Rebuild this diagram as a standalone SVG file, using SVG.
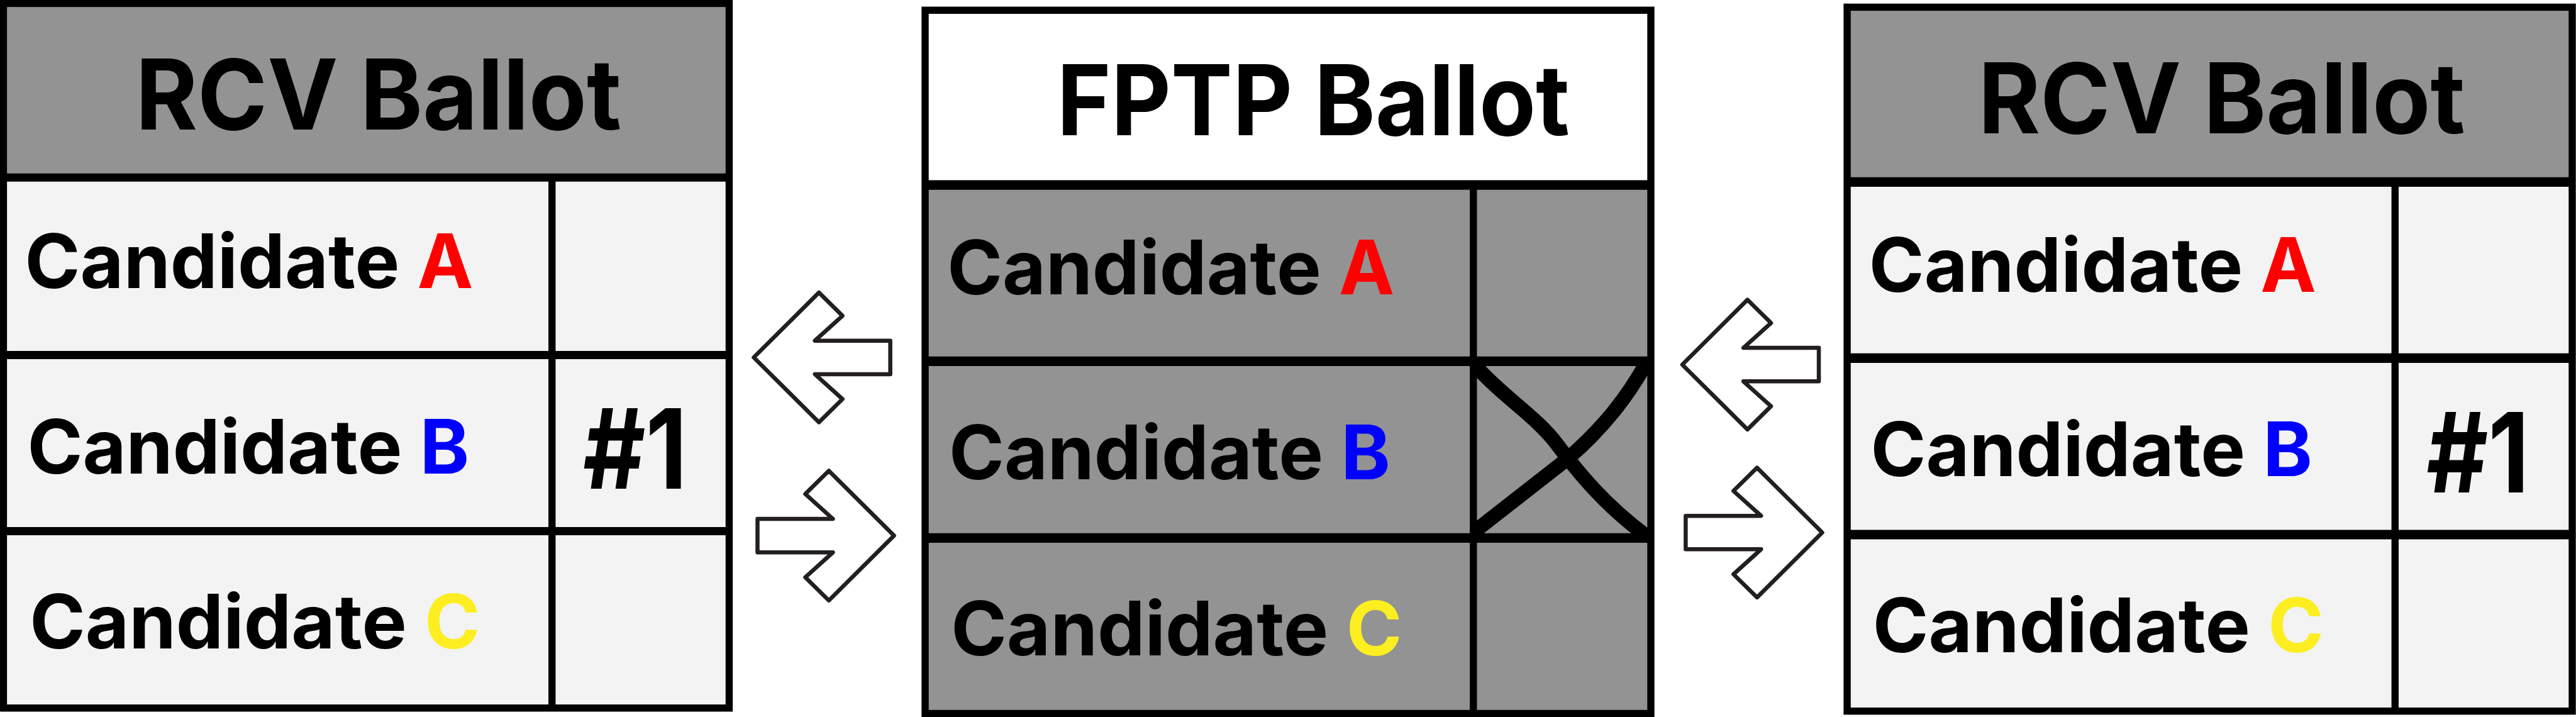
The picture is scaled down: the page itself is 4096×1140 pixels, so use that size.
<svg xmlns="http://www.w3.org/2000/svg" width="4096" height="1140" viewBox="0 0 4096 1140">
<style>
.gray{fill:#939393}
.light{fill:#f3f3f3}
.white{fill:#ffffff}
.frame{fill:none;stroke:#000;stroke-width:21}
.rule{stroke:#000;stroke-width:24}
.rule2{stroke:#000;stroke-width:28}
.vrule{stroke:#000;stroke-width:21}
.title{font-family:Inter,"Liberation Sans",sans-serif;font-weight:700;font-size:286px;fill:#000}
.cand{font-family:Inter,"Liberation Sans",sans-serif;font-weight:700;font-size:220px;fill:#000}
.rank{font-family:Inter,"Liberation Sans",sans-serif;font-weight:700;font-size:325px;fill:#000}
.ra{fill:#ff0000}
.rb{fill:#0000ff}
.rc{fill:#fcee21}
.arrow{fill:#fff;stroke:#231f20;stroke-width:12;stroke-linejoin:round}
.mark{fill:none;stroke:#000;stroke-width:42}
</style>
<defs>
<path id="arrowL" d="M0 0 L191 -190 L260 -122 L179 -49 L400 -49 L400 49 L179 49 L260 122 L191 190 Z"/>
<clipPath id="xcell"><rect x="4316" y="1058" width="520" height="518"/></clipPath>
</defs>
<rect x="0" y="0" width="4096" height="1140" fill="#fff"/>
<g transform="scale(0.5428)">
<g id="rcv-left">
<rect class="gray" x="10" y="10" width="2126" height="510"/>
<rect class="light" x="10" y="520" width="2126" height="1554"/>
<line class="rule" x1="10" y1="520" x2="2136" y2="520"/>
<line class="rule" x1="10" y1="1040" x2="2136" y2="1040"/>
<line class="rule" x1="10" y1="1556" x2="2136" y2="1556"/>
<line class="vrule" x1="1617" y1="520" x2="1617" y2="2074"/>
<rect class="frame" x="10" y="10" width="2126" height="2064"/>
<text class="title" x="397" y="380" textLength="1423" lengthAdjust="spacingAndGlyphs">RCV Ballot</text>
<text class="cand" x="73" y="844" textLength="1313" lengthAdjust="spacingAndGlyphs">Candidate <tspan class="ra">A</tspan></text>
<text class="cand" x="80" y="1387" textLength="1295" lengthAdjust="spacingAndGlyphs">Candidate <tspan class="rb">B</tspan></text>
<text class="cand" x="87" y="1900" textLength="1320" lengthAdjust="spacingAndGlyphs">Candidate <tspan class="rc">C</tspan></text>
<text class="rank" x="1708" y="1431" textLength="305" lengthAdjust="spacingAndGlyphs">#1</text>
</g>
<g id="fptp">
<rect class="white" x="2710" y="30" width="2126" height="512"/>
<rect class="gray" x="2710" y="542" width="2126" height="1548"/>
<g clip-path="url(#xcell)">
<path class="mark" d="M4321 1070 C4400 1160 4500 1220 4560 1300 C4620 1380 4700 1480 4830 1575"/>
<path class="mark" d="M4314 1561 L4593 1343 C4700 1250 4770 1160 4830 1050"/>
</g>
<line class="rule2" x1="2710" y1="542" x2="4836" y2="542"/>
<line class="rule2" x1="2710" y1="1058" x2="4836" y2="1058"/>
<line class="rule2" x1="2710" y1="1576" x2="4836" y2="1576"/>
<line class="vrule" x1="4316" y1="542" x2="4316" y2="2090"/>
<rect class="frame" x="2710" y="30" width="2126" height="2060"/>
<text class="title" x="3096" y="397" textLength="1502" lengthAdjust="spacingAndGlyphs">FPTP Ballot</text>
<text class="cand" x="2775" y="862" textLength="1310" lengthAdjust="spacingAndGlyphs">Candidate <tspan class="ra">A</tspan></text>
<text class="cand" x="2780" y="1403" textLength="1293" lengthAdjust="spacingAndGlyphs">Candidate <tspan class="rb">B</tspan></text>
<text class="cand" x="2786" y="1919" textLength="1321" lengthAdjust="spacingAndGlyphs">Candidate <tspan class="rc">C</tspan></text>
</g>
<g id="rcv-right">
<rect class="gray" x="5411" y="21" width="2124" height="512"/>
<rect class="light" x="5411" y="533" width="2124" height="1550"/>
<line class="rule2" x1="5411" y1="533" x2="7535" y2="533"/>
<line class="rule2" x1="5411" y1="1049" x2="7535" y2="1049"/>
<line class="rule2" x1="5411" y1="1566" x2="7535" y2="1566"/>
<line class="vrule" x1="7016" y1="533" x2="7016" y2="2083"/>
<rect class="frame" x="5411" y="21" width="2124" height="2062"/>
<text class="title" x="5795" y="390" textLength="1426" lengthAdjust="spacingAndGlyphs">RCV Ballot</text>
<text class="cand" x="5475" y="854" textLength="1310" lengthAdjust="spacingAndGlyphs">Candidate <tspan class="ra">A</tspan></text>
<text class="cand" x="5480" y="1395" textLength="1294" lengthAdjust="spacingAndGlyphs">Candidate <tspan class="rb">B</tspan></text>
<text class="cand" x="5486" y="1910" textLength="1321" lengthAdjust="spacingAndGlyphs">Candidate <tspan class="rc">C</tspan></text>
<text class="rank" x="7108" y="1443" textLength="301" lengthAdjust="spacingAndGlyphs">#1</text>
</g>
<g id="connectors">
<use href="#arrowL" class="arrow" transform="translate(2208 1047)"/>
<use href="#arrowL" class="arrow" transform="translate(2619 1569) scale(-1 1)"/>
<use href="#arrowL" class="arrow" transform="translate(4928 1068)"/>
<use href="#arrowL" class="arrow" transform="translate(5338 1560) scale(-1 1)"/>
</g>
</g>
</svg>
